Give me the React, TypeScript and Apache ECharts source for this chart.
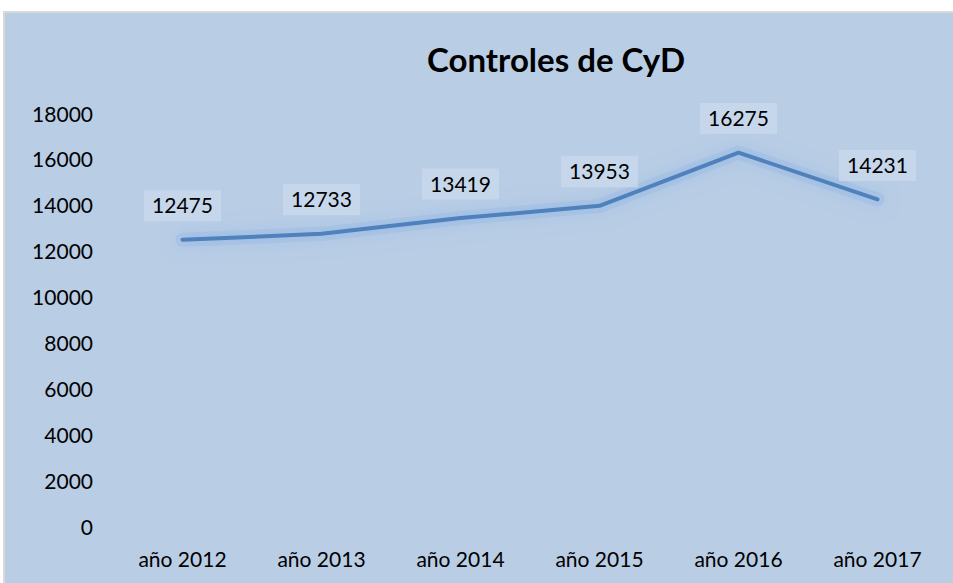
import React, { useEffect, useRef } from "react";
import * as echarts from "echarts";

const categories = ["año 2012", "año 2013", "año 2014", "año 2015", "año 2016", "año 2017"];
const values = [12475, 12733, 13419, 13953, 16275, 14231];
const yMin = 0;
const yMax = 18000;
const yInterval = 2000;
const titleText = "Controles de CyD";

const FONT = "Lato, 'Open Sans', sans-serif";

export default function App() {
  const ref = useRef<HTMLDivElement>(null);
  useEffect(() => {
    if (!ref.current) return;
    const chart = echarts.init(ref.current, null, { renderer: "svg" });
    chart.setOption({
      animation: false,
      backgroundColor: "#ffffff",
      graphic: [
        {
          type: "rect",
          z: -10,
          shape: { x: 4, y: 12, width: 960, height: 580 },
          style: { fill: "#B9CDE5", stroke: "#D9D9D9", lineWidth: 2 },
        },
      ],
      title: {
        text: titleText,
        left: 551,
        top: 37,
        textAlign: "center",
        textStyle: { fontFamily: FONT, fontWeight: "bold", fontSize: 33, color: "#000" },
      },
      grid: { left: 113, right: 6, top: 113, bottom: 57, containLabel: false },
      xAxis: {
        type: "category",
        data: categories,
        boundaryGap: true,
        axisLine: { show: false },
        axisTick: { show: false },
        axisLabel: { fontFamily: FONT, fontSize: 21, color: "#000", margin: 22 },
      },
      yAxis: {
        type: "value",
        min: yMin,
        max: yMax,
        interval: yInterval,
        splitLine: { show: false },
        axisLine: { show: false },
        axisTick: { show: false },
        axisLabel: {
          fontFamily: FONT,
          fontSize: 21,
          color: "#000",
          margin: 20,
          formatter: (v: number) => String(v),
        },
      },
      series: [
        {
          type: "line",
          data: values,
          silent: true,
          symbol: "none",
          z: 1,
          lineStyle: {
            color: "rgba(140,178,228,0.3)",
            width: 14,
            cap: "round",
            join: "round",
            shadowColor: "rgba(130,170,225,0.9)",
            shadowBlur: 18,
          },
        },
        {
          type: "line",
          data: values,
          z: 3,
          showSymbol: true,
          symbol: "circle",
          symbolSize: 1,
          itemStyle: { color: "rgba(0,0,0,0)", borderWidth: 0 },
          lineStyle: {
            color: "#4F81BD",
            width: 4,
            cap: "round",
          },
          label: {
            show: true,
            position: "top",
            distance: 18,
            fontFamily: FONT,
            fontSize: 21,
            color: "#000",
            backgroundColor: "rgba(205,220,238,0.7)",
            padding: [4, 8, 6, 8],
            formatter: (p: any) => String(p.value),
          },
        },
      ],
    });
    return () => chart.dispose();
  }, []);
  return (
    <div
      ref={ref}
      style={{ position: "absolute", left: 0, top: 0, width: 953, height: 583 }}
    />
  );
}
